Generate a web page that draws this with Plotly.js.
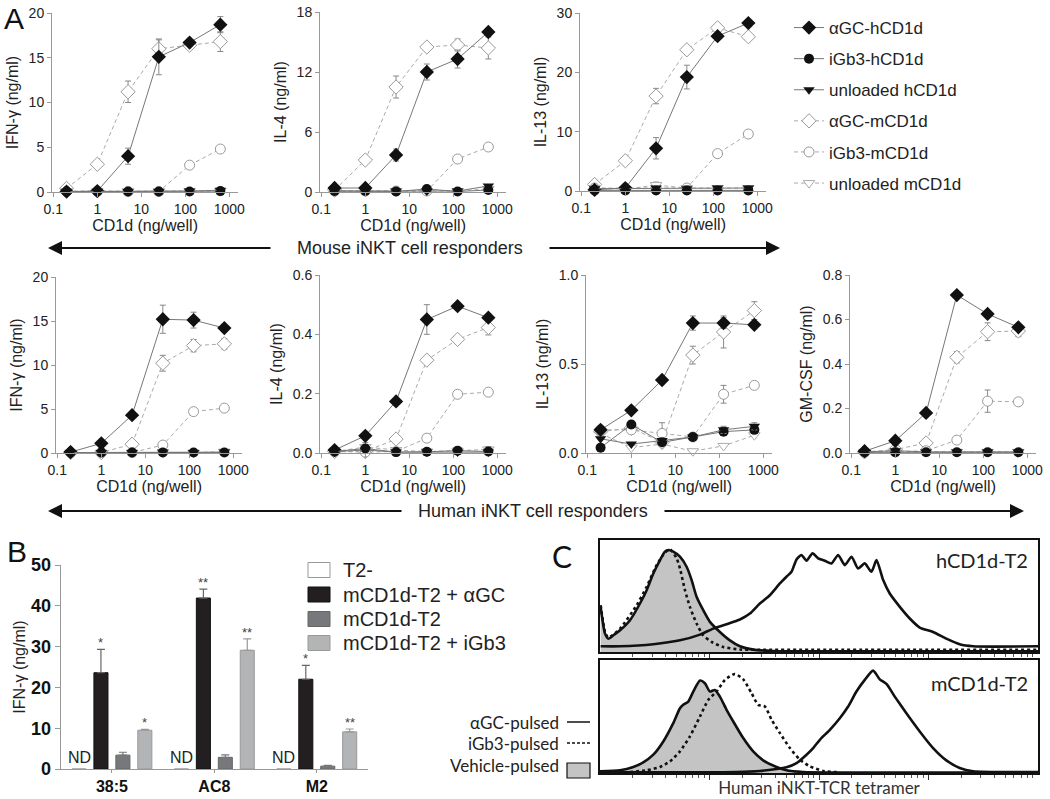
<!DOCTYPE html>
<html><head><meta charset="utf-8">
<script src="https://cdn.plot.ly/plotly-3.0.1.min.js"></script>
<style>html,body{margin:0;padding:0;background:#fff}#chart{width:1050px;height:799px}</style>
</head><body><div id="chart"></div>
<script>
// ---------------- Panel A data ----------------
const doses = [0.2, 1, 5, 25, 125, 625];
const seriesNames = ['αGC-hCD1d', 'iGb3-hCD1d', 'unloaded hCD1d', 'αGC-mCD1d', 'iGb3-mCD1d', 'unloaded mCD1d'];
const xTickVals = [0.1, 1, 10, 100, 1000];
const xTickText = ['0.1', '1', '10', '100', '1000'];

// rows follow seriesNames
const mouseIFNg = [
  [0.05, 0.1, 4.0, 15.1, 16.7, 18.7],
  [0.05, 0.05, 0.05, 0.05, 0.05, 0.1],
  [0.05, 0.05, 0.05, 0.05, 0.1, 0.2],
  [0.4, 3.1, 11.2, 16.0, 16.4, 16.8],
  [0.05, 0.1, 0.05, 0.05, 3.0, 4.8],
  [0.1, 0.1, 0.1, 0.1, 0.1, 0.1]
];
const mouseIFNgErr = [
  [0, 0, 0.9, 2.0, 0, 0.9], [0,0,0,0,0,0], [0,0,0,0,0,0],
  [0, 0, 1.2, 1.0, 0, 1.1], [0,0,0,0,0,0], [0,0,0,0,0,0]
];
const mouseIL4 = [
  [0.4, 0.4, 3.7, 12.0, 13.3, 16.0],
  [0.1, 0.1, 0.05, 0.3, 0.05, 0.2],
  [0.1, 0.1, 0.1, 0.1, 0.1, 0.6],
  [0.2, 3.2, 10.5, 14.5, 14.7, 14.4],
  [0.1, 0.1, 0.1, 0.1, 3.3, 4.5],
  [0.1, 0.1, 0.1, 0.1, 0.1, 0.3]
];
const mouseIL4Err = [
  [0, 0, 0.6, 0.8, 0.9, 0], [0,0,0,0,0,0], [0,0,0,0,0,0],
  [0, 0, 1.1, 0, 0.6, 1.1], [0,0,0,0,0,0], [0,0,0,0,0,0]
];
const mouseIL13 = [
  [0.2, 0.5, 7.2, 19.2, 26.1, 28.3],
  [0.1, 0.1, 0.1, 0.1, 0.1, 0.1],
  [0.4, 0.4, 0.5, 0.4, 0.5, 0.5],
  [1.1, 5.1, 16.0, 23.8, 27.5, 26.0],
  [0.5, 0.5, 0.5, 0.5, 6.3, 9.6],
  [0.5, 0.3, 1.0, 0.5, 0.5, 0.5]
];
const mouseIL13Err = [
  [0, 0, 1.8, 2.0, 0, 0], [0,0,0,0,0,0], [0,0,0,0,0,0],
  [0, 0.5, 1.3, 0.4, 0, 0], [0,0,0,0,0,0], [0, 0, 0.5, 0, 0, 0]
];
const humanIFNg = [
  [0.1, 1.1, 4.3, 15.2, 15.1, 14.2],
  [0.05, 0.05, 0.05, 0.05, 0.05, 0.05],
  [0.05, 0.05, 0.05, 0.1, 0.05, 0.1],
  [0.05, 0.05, 1.0, 10.2, 12.2, 12.4],
  [0.05, 0.05, 0.05, 0.9, 4.7, 5.1],
  [0.05, 0.05, 0.05, 0.05, 0.05, 0.15]
];
const humanIFNgErr = [
  [0, 0, 0, 1.6, 0.9, 0], [0,0,0,0,0,0], [0,0,0,0,0,0],
  [0, 0, 0, 0.9, 0.7, 0.6], [0,0,0,0,0,0], [0,0,0,0,0,0]
];
const humanIL4 = [
  [0.01, 0.058, 0.174, 0.45, 0.495, 0.456],
  [0.005, 0.015, 0.003, 0.004, 0.008, 0.005],
  [0.005, 0.01, 0.003, 0.003, 0.003, 0.003],
  [0.005, 0.005, 0.047, 0.313, 0.383, 0.423],
  [0.005, 0.003, 0.005, 0.05, 0.198, 0.205],
  [0.005, 0.02, 0.01, 0.005, 0.008, 0.012]
];
const humanIL4Err = [
  [0, 0, 0, 0.05, 0.01, 0], [0,0,0,0,0,0], [0,0,0,0,0,0],
  [0, 0, 0, 0.01, 0, 0.025], [0, 0, 0, 0.01, 0, 0], [0, 0.015, 0, 0, 0, 0.01]
];
const humanIL13 = [
  [0.13, 0.24, 0.41, 0.73, 0.73, 0.72],
  [0.03, 0.16, 0.06, 0.09, 0.12, 0.13],
  [0.08, 0.05, 0.07, 0.09, 0.13, 0.15],
  [0.12, 0.14, 0.06, 0.55, 0.68, 0.80],
  [0.13, 0.13, 0.11, 0.09, 0.33, 0.38],
  [0.11, 0.03, 0.05, 0.01, 0.04, 0.10]
];
const humanIL13Err = [
  [0, 0, 0.02, 0.04, 0.03, 0], [0,0,0,0,0,0], [0, 0, 0, 0, 0.02, 0.02],
  [0, 0, 0, 0.05, 0.09, 0.05], [0, 0, 0.06, 0, 0.05, 0], [0,0,0,0,0,0]
];
const humanGMCSF = [
  [0.008, 0.055, 0.18, 0.71, 0.625, 0.565],
  [0.003, 0.003, 0.003, 0.003, 0.003, 0.003],
  [0.005, 0.01, 0.005, 0.005, 0.005, 0.005],
  [0.005, 0.015, 0.045, 0.43, 0.545, 0.548],
  [0.003, 0.005, 0.01, 0.058, 0.233, 0.23],
  [0.005, 0.005, 0.005, 0.005, 0.005, 0.005]
];
const humanGMCSFErr = [
  [0,0,0,0,0,0], [0,0,0,0,0,0], [0,0,0,0,0,0],
  [0, 0.01, 0, 0.025, 0.04, 0.025], [0, 0, 0, 0, 0.05, 0], [0,0,0,0,0,0]
];

// ---------------- Panel B data ----------------
const bCats = ['38:5', 'AC8', 'M2'];
const bNames = ['T2-', 'mCD1d-T2 + αGC', 'mCD1d-T2', 'mCD1d-T2 + iGb3'];
const bT2 = [0, 0, 0];
const bAGC = [23.6, 41.9, 22.0];
const bAGCErr = [5.7, 2.2, 3.4];
const bMCD = [3.4, 2.85, 0.7];
const bMCDErr = [0.7, 0.6, 0.2];
const bIGb3 = [9.5, 29.1, 9.1];
const bIGb3Err = [0.2, 2.8, 0.7];
const bSigAGC = ['*', '**', '*'];
const bSigIGb3 = ['*', '**', '**'];

// ---------------- Panel C data (x in decades, y in % of max) ----------------
const cTopVehX = [0.006,0.046,0.076,0.122,0.183,0.274,0.365,0.426,0.487,0.548,0.593,0.624,0.669,0.730,0.791,0.837,0.882,0.943,1.004,1.095,1.186,1.278,1.399,1.582,1.703,4.0];
const cTopVehY = [40.3,16.4,11.9,14.9,19.4,28.4,43.3,55.2,70.1,82.1,89.6,91.0,89.6,85.1,76.1,64.2,49.3,37.3,26.9,17.9,10.4,5.1,2.1,0.9,0.6,0.6];
const cTopIgbX = [0.006,0.046,0.076,0.183,0.335,0.426,0.517,0.593,0.639,0.700,0.730,0.776,0.821,0.882,0.943,1.019,1.125,1.278,1.460,4.0];
const cTopIgbY = [41.8,17.9,12.8,20.9,41.8,58.2,77.6,88.7,91.6,83.6,74.6,55.2,40.3,25.4,14.9,9.0,4.5,2.2,2.0,2.0];
const cTopAgcX = [0.006,0.183,0.487,0.730,0.913,1.034,1.156,1.278,1.369,1.460,1.551,1.643,1.703,1.749,1.795,1.840,1.886,1.941,1.992,2.053,2.114,2.175,2.236,2.297,2.357,2.418,2.479,2.525,2.586,2.646,2.738,2.829,2.920,3.042,3.163,3.285,3.407,4.0];
const cTopAgcY = [5.1,5.1,6.9,10.4,15.5,20.9,24.8,29.0,34.3,43.3,50.7,61.2,67.2,71.6,82.7,86.6,81.5,88.1,83.6,81.5,79.1,86.6,77.6,85.1,74.6,79.1,71.6,82.1,64.2,52.2,40.3,29.9,21.8,17.9,11.9,6.9,5.1,5.1];
const cBotVehX = [0,0.183,0.304,0.395,0.487,0.578,0.669,0.730,0.760,0.806,0.852,0.913,0.958,1.004,1.049,1.095,1.156,1.217,1.308,1.399,1.490,1.612,1.703,1.855,4.0];
const cBotVehY = [1.5,2.4,5.3,9.4,16.2,27.9,44.1,57.4,60.3,63.2,72.1,81.8,79.4,72.1,73.5,67.6,55.9,45.6,30.9,19.1,11.2,5.3,2.4,0.9,0.6];
const cBotIgbX = [0.274,0.426,0.548,0.639,0.730,0.821,0.913,0.989,1.065,1.141,1.232,1.308,1.384,1.445,1.506,1.567,1.643,1.734,1.825,1.916,2.038,2.190];
const cBotIgbY = [0.9,2.4,5.3,10.3,19.1,32.4,50.0,64.7,72.1,82.4,87.6,82.9,70.6,60.3,58.8,47.1,35.3,22.1,11.8,5.9,1.8,0.6];
const cBotAgcX = [0,1.247,1.460,1.612,1.703,1.795,1.886,1.947,2.008,2.099,2.190,2.266,2.342,2.418,2.494,2.555,2.616,2.692,2.798,2.920,3.042,3.163,3.285,3.407,4.0];
const cBotAgcY = [0.6,0.9,1.8,3.5,5.0,8.8,16.2,22.1,29.4,38.2,48.5,58.8,72.1,82.4,90.6,82.9,78.8,67.6,52.9,36.8,22.1,11.2,4.4,1.5,0.9];

// ---------------- helpers & styles ----------------
const W = 1050, H = 799;
const fx = p => p / W;
const fy = p => 1 - p / H;
const FONT = "'Liberation Sans', Arial, sans-serif";
const TXT = '#222';
const AX = '#999';

const seriesStyle = [
  {symbol: 'diamond', size: 11, color: '#111', lc: '#111', lw: 0, line: '#777', dash: 'solid'},
  {symbol: 'circle', size: 10, color: '#111', lc: '#111', lw: 0, line: '#777', dash: 'solid'},
  {symbol: 'triangle-down', size: 10, color: '#111', lc: '#111', lw: 0, line: '#777', dash: 'solid'},
  {symbol: 'diamond', size: 11, color: '#fff', lc: '#999', lw: 1, line: '#aaa', dash: '4px,3px'},
  {symbol: 'circle', size: 10, color: '#fff', lc: '#999', lw: 1, line: '#aaa', dash: '4px,3px'},
  {symbol: 'triangle-down', size: 10, color: '#fff', lc: '#aaa', lw: 1, line: '#aaa', dash: '4px,3px'}
];

const panelsA = [
  {data: mouseIFNg, err: mouseIFNgErr, left: 52, top: 13, bottom: 192, ymax: 20, dtick: 5, fmt: '', title: 'IFN-γ (ng/ml)'},
  {data: mouseIL4, err: mouseIL4Err, left: 320, top: 12, bottom: 192, ymax: 18, dtick: 6, fmt: '', title: 'IL-4 (ng/ml)'},
  {data: mouseIL13, err: mouseIL13Err, left: 580, top: 13, bottom: 191, ymax: 30, dtick: 10, fmt: '', title: 'IL-13 (ng/ml)'},
  {data: humanIFNg, err: humanIFNgErr, left: 56, top: 277, bottom: 453, ymax: 20, dtick: 5, fmt: '', title: 'IFN-γ (ng/ml)'},
  {data: humanIL4, err: humanIL4Err, left: 320, top: 275, bottom: 453, ymax: 0.6, dtick: 0.2, fmt: '.1f', title: 'IL-4 (ng/ml)'},
  {data: humanIL13, err: humanIL13Err, left: 586, top: 275, bottom: 453, ymax: 1.0, dtick: 0.5, fmt: '.1f', title: 'IL-13 (ng/ml)'},
  {data: humanGMCSF, err: humanGMCSFErr, left: 850, top: 275, bottom: 453, ymax: 0.8, dtick: 0.2, fmt: '.1f', title: 'GM-CSF (ng/ml)'}
];

const traces = [];
const layout = {
  width: W, height: H,
  margin: {l: 0, r: 0, t: 0, b: 0},
  paper_bgcolor: '#fff', plot_bgcolor: 'rgba(0,0,0,0)',
  font: {family: FONT, color: TXT, size: 14},
  showlegend: true,
  legend: {x: fx(789), y: fy(10), xanchor: 'left', yanchor: 'top', font: {family: FONT, size: 17, color: TXT},
           tracegroupgap: 6, bgcolor: 'rgba(0,0,0,0)', itemsizing: 'trace'},
  annotations: [], shapes: []
};

const DW = 44, R0 = -1.03, R1 = 3.2;
panelsA.forEach((p, i) => {
  const n = i + 1;
  const xs = n === 1 ? 'x' : 'x' + n, ys = n === 1 ? 'y' : 'y' + n;
  const xk = n === 1 ? 'xaxis' : 'xaxis' + n, yk = n === 1 ? 'yaxis' : 'yaxis' + n;
  const order = [3, 4, 5, 0, 1, 2];
  order.forEach(s => {
    const st = seriesStyle[s];
    traces.push({
      type: 'scatter', mode: 'lines+markers', x: doses, y: p.data[s],
      xaxis: xs, yaxis: ys, name: seriesNames[s], legendgroup: 'g' + s, legendrank: s + 1,
      showlegend: i === 0, cliponaxis: false,
      line: {color: st.line, width: 1, dash: st.dash},
      marker: {symbol: st.symbol, size: st.size, color: st.color, line: {color: st.lc, width: st.lw}},
      error_y: {type: 'data', array: p.err[s], visible: true, color: '#888', thickness: 1, width: 3}
    });
  });
  layout[xk] = {
    type: 'log', domain: [fx(p.left), fx(p.left + DW * (R1 - R0))], range: [R0, R1], anchor: ys,
    tickvals: xTickVals, ticktext: xTickText, ticks: 'outside', ticklen: 4, tickcolor: AX,
    showline: true, linecolor: AX, linewidth: 1, showgrid: false, zeroline: false,
    tickfont: {family: FONT, size: 14, color: TXT}, title: {text: 'CD1d (ng/well)', font: {family: FONT, size: 16, color: TXT}, standoff: 4}
  };
  layout[yk] = {
    domain: [fy(p.bottom), fy(p.top)], range: [0, p.ymax], anchor: xs,
    tick0: 0, dtick: p.dtick, tickformat: p.fmt, ticks: 'outside', ticklen: 4, tickcolor: AX,
    showline: true, linecolor: AX, linewidth: 1, showgrid: false, zeroline: false,
    tickfont: {family: FONT, size: 14, color: TXT}, title: {text: p.title, font: {family: FONT, size: 16, color: TXT}, standoff: 6}
  };
});

// ---------------- Panel B ----------------
const bargap = 0.143;
const slot = (1 - bargap) / 4;
const bColors = ['#ffffff', '#231f20', '#77787b', '#b3b4b6'];
const bLines = ['#999', '#111', '#666', '#999'];
const bErrCol = ['#999', '#666', '#777', '#999'];
const bVals = [bT2, bAGC, bMCD, bIGb3];
const bErrs = [[0,0,0], bAGCErr, bMCDErr, bIGb3Err];
bVals.forEach((v, k) => {
  traces.push({
    type: 'bar', x: bCats, y: v, xaxis: 'x8', yaxis: 'y8', name: bNames[k], showlegend: false,
    marker: {color: bColors[k], line: {color: bLines[k], width: 1}},
    error_y: {type: 'data', symmetric: false, array: bErrs[k], arrayminus: [0,0,0], visible: k > 0,
              color: bErrCol[k], thickness: 1.2, width: 4}
  });
});
layout.barmode = 'group';
layout.bargap = bargap;
layout.bargroupgap = 0.36;
layout.xaxis8 = {
  domain: [fx(60.7), fx(368)], anchor: 'y8', type: 'category', range: [-0.5, 2.5],
  showline: true, linecolor: AX, linewidth: 1, ticks: 'outside', ticklen: 3, tickcolor: AX,
  tickfont: {family: FONT, size: 16, color: '#111', weight: 'bold'}, showgrid: false, zeroline: false
};
layout.yaxis8 = {
  domain: [fy(769), fy(565)], anchor: 'x8', range: [0, 50], dtick: 10, tick0: 0,
  showline: true, linecolor: AX, linewidth: 1, ticks: 'outside', ticklen: 5, tickcolor: AX,
  tickfont: {family: FONT, size: 18, color: '#111', weight: 'bold'}, showgrid: false, zeroline: false,
  title: {text: 'IFN-γ (ng/ml)', font: {family: FONT, size: 16, color: TXT}, standoff: 1}
};
bCats.forEach((c, i) => {
  layout.annotations.push({xref: 'x8', yref: 'y8', x: i - 1.5 * slot, y: 0, yanchor: 'bottom', showarrow: false,
    text: 'ND', font: {size: 16, color: TXT}, yshift: 1});
  layout.annotations.push({xref: 'x8', yref: 'y8', x: i - 0.5 * slot, y: bAGC[i] + bAGCErr[i], yanchor: 'bottom',
    showarrow: false, text: bSigAGC[i], font: {size: 13, color: '#444'}, yshift: -3});
  layout.annotations.push({xref: 'x8', yref: 'y8', x: i + 1.5 * slot, y: bIGb3[i] + bIGb3Err[i], yanchor: 'bottom',
    showarrow: false, text: bSigIGb3[i], font: {size: 13, color: '#444'}, yshift: -3});
});
// B legend
const bLegY = [570, 594.5, 619, 643];
bNames.forEach((nm, k) => {
  layout.shapes.push({type: 'rect', xref: 'paper', yref: 'paper', x0: fx(308), x1: fx(330),
    y0: fy(bLegY[k] + 7.5), y1: fy(bLegY[k] - 7.5), fillcolor: bColors[k], line: {color: bLines[k], width: 1}});
  layout.annotations.push({xref: 'paper', yref: 'paper', x: fx(341), y: fy(bLegY[k]), xanchor: 'left', yanchor: 'middle',
    showarrow: false, text: nm, font: {size: 20, color: TXT}});
});

// ---------------- Panel C ----------------
const minorTicks = [];
for (let d = 0; d < 4; d++) for (let k = 2; k <= 9; k++) minorTicks.push(d + Math.log10(k));
const cAxisX = (anchor, dom) => ({
  domain: dom, anchor: anchor, range: [0, 4], showline: true, mirror: true, linecolor: '#111', linewidth: 2,
  tickvals: [1, 2, 3], ticks: 'outside', ticklen: 5, tickcolor: '#333', tickwidth: 1, showticklabels: false,
  minor: {tickvals: minorTicks, ticks: 'outside', ticklen: 3, tickcolor: '#555', tickwidth: 1, showgrid: false},
  showgrid: false, zeroline: false
});
const cAxisY = (anchor, dom) => ({
  domain: dom, anchor: anchor, range: [0, 100], showline: true, mirror: true, linecolor: '#111', linewidth: 2,
  ticks: '', showticklabels: false, showgrid: false, zeroline: false
});
const cFont = "Lato, 'Open Sans', sans-serif";
layout.xaxis9 = cAxisX('y9', [fx(600), fx(1038)]);
layout.yaxis9 = cAxisY('x9', [fy(652), fy(540)]);
layout.xaxis10 = cAxisX('y10', [fx(600), fx(1038)]);
layout.yaxis10 = cAxisY('x10', [fy(773), fy(660)]);
layout.xaxis10.title = {text: 'Human iNKT-TCR tetramer', font: {family: cFont, size: 17, color: '#333'}, standoff: 3};

const cCurves = [
  {x: cTopVehX, y: cTopVehY, ax: 'x9', ay: 'y9', kind: 'veh'},
  {x: cTopIgbX, y: cTopIgbY, ax: 'x9', ay: 'y9', kind: 'igb'},
  {x: cTopAgcX, y: cTopAgcY, ax: 'x9', ay: 'y9', kind: 'agc'},
  {x: cBotVehX, y: cBotVehY, ax: 'x10', ay: 'y10', kind: 'veh'},
  {x: cBotIgbX, y: cBotIgbY, ax: 'x10', ay: 'y10', kind: 'igb'},
  {x: cBotAgcX, y: cBotAgcY, ax: 'x10', ay: 'y10', kind: 'agc'}
];
cCurves.forEach(c => {
  traces.push({
    type: 'scatter', mode: 'lines', x: c.x, y: c.y, xaxis: c.ax, yaxis: c.ay, showlegend: false,
    name: c.kind === 'veh' ? 'Vehicle-pulsed' : (c.kind === 'igb' ? 'iGb3-pulsed' : 'αGC-pulsed'),
    line: {color: '#111', width: 2.6, dash: c.kind === 'igb' ? 'dot' : 'solid', shape: 'spline', smoothing: 0.6},
    fill: c.kind === 'veh' ? 'tozeroy' : 'none', fillcolor: '#c4c4c4'
  });
});
layout.annotations.push(
  {xref: 'paper', yref: 'paper', x: fx(1030), y: fy(560), xanchor: 'right', yanchor: 'middle', showarrow: false,
   text: 'hCD1d-T2', font: {family: cFont, size: 20, color: '#222'}},
  {xref: 'paper', yref: 'paper', x: fx(1030), y: fy(683), xanchor: 'right', yanchor: 'middle', showarrow: false,
   text: 'mCD1d-T2', font: {family: cFont, size: 20, color: '#222'}},
  {xref: 'paper', yref: 'paper', x: fx(561), y: fy(722), xanchor: 'right', yanchor: 'middle', showarrow: false,
   text: 'αGC-pulsed', font: {family: cFont, size: 17, color: '#222'}},
  {xref: 'paper', yref: 'paper', x: fx(561), y: fy(743), xanchor: 'right', yanchor: 'middle', showarrow: false,
   text: 'iGb3-pulsed', font: {family: cFont, size: 17, color: '#222'}},
  {xref: 'paper', yref: 'paper', x: fx(561), y: fy(765), xanchor: 'right', yanchor: 'middle', showarrow: false,
   text: 'Vehicle-pulsed', font: {family: cFont, size: 17, color: '#222'}}
);
layout.shapes.push(
  {type: 'line', xref: 'paper', yref: 'paper', x0: fx(567), x1: fx(590), y0: fy(722), y1: fy(722), line: {color: '#111', width: 1.5}},
  {type: 'line', xref: 'paper', yref: 'paper', x0: fx(567), x1: fx(590), y0: fy(743), y1: fy(743), line: {color: '#111', width: 1.5, dash: '3px,2px'}},
  {type: 'rect', xref: 'paper', yref: 'paper', x0: fx(567), x1: fx(590), y0: fy(778), y1: fy(763), fillcolor: '#c4c4c4', line: {color: '#111', width: 1.2}}
);

// ---------------- Panel letters & arrows ----------------
layout.annotations.push(
  {xref: 'paper', yref: 'paper', x: fx(2), y: fy(0), xanchor: 'left', yanchor: 'top', showarrow: false, text: 'A', font: {size: 30, color: '#111'}},
  {xref: 'paper', yref: 'paper', x: fx(5), y: fy(533), xanchor: 'left', yanchor: 'top', showarrow: false, text: 'B', font: {size: 30, color: '#111'}},
  {xref: 'paper', yref: 'paper', x: fx(550), y: fy(536), xanchor: 'left', yanchor: 'top', showarrow: false, text: 'C', font: {family: cFont, size: 30, color: '#111'}},
  {xref: 'paper', yref: 'paper', x: fx(410), y: fy(248), xanchor: 'center', yanchor: 'middle', showarrow: false, text: 'Mouse iNKT cell responders', font: {size: 18, color: TXT}},
  {xref: 'paper', yref: 'paper', x: fx(533), y: fy(511), xanchor: 'center', yanchor: 'middle', showarrow: false, text: 'Human iNKT cell responders', font: {size: 18, color: TXT}}
);
const arrow = (tip, tail, y) => ({xref: 'paper', yref: 'paper', x: fx(tip), y: fy(y), ax: tail - tip, ay: 0, axref: 'pixel', ayref: 'pixel',
  text: '', showarrow: true, arrowhead: 2, arrowsize: 1.4, arrowwidth: 2, arrowcolor: '#111', standoff: 0});
layout.annotations.push(arrow(48, 272, 248), arrow(780, 548, 248), arrow(48, 403, 511), arrow(1024, 663, 511));

Plotly.newPlot('chart', traces, layout, {displayModeBar: false, responsive: false});
</script>
</body></html>
